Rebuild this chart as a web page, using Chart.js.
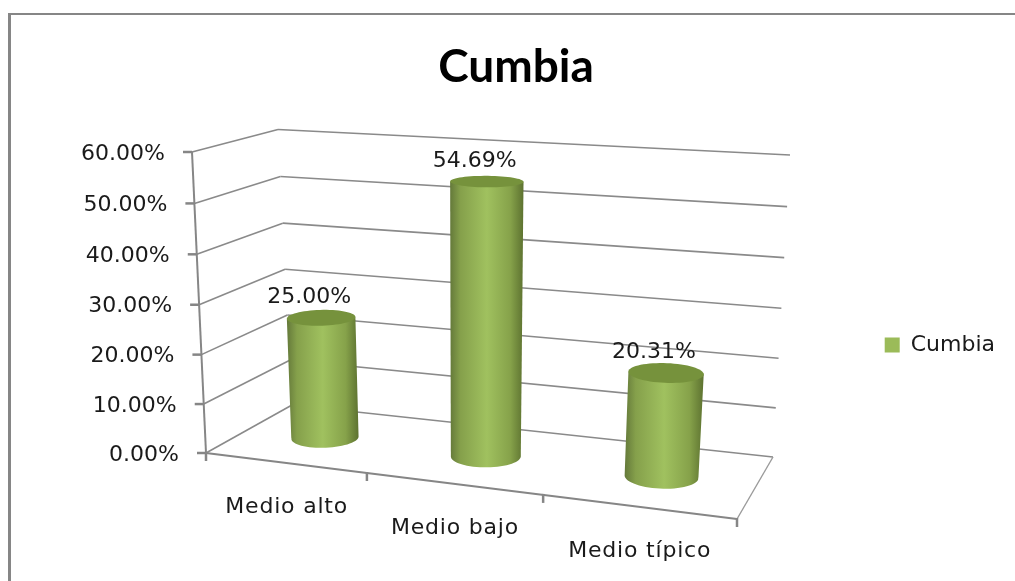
<!DOCTYPE html>
<html>
<head>
<meta charset="utf-8">
<title>Cumbia</title>
<script src="https://cdn.jsdelivr.net/npm/chart.js@4/dist/chart.umd.min.js"></script>
<style>
  html, body { margin: 0; height: 100%; background: #fff; overflow: hidden; }
  /* frame runs past the window on the right and bottom, like the screenshot */
  #frame { position: absolute; left: 8px; top: 13px; width: 1100px; height: 700px; border-left: 3px solid #868686; border-top: 2px solid #868686; }
  #cumbiaChart { position: absolute; left: 0; top: 0; display: block; }
</style>
</head>
<body>
<div id="frame"></div>
<canvas id="cumbiaChart" width="1032" height="595"></canvas>
<script>
const categories = ['Medio alto', 'Medio bajo', 'Medio típico'];
const seriesName = 'Cumbia';
const seriesValues = [0.25, 0.5469, 0.2031];
const yMax = 0.6;
const yStep = 0.1;

const FONT = '"DejaVu Sans"';
const GREEN = '#9bbb59';
const LINE = '#868686';
const TEXT = '#1a1a1a';

// corners of the 3d box on the page: floor and top plane, order front-left, front-right, back-right, back-left
const floorQuad = [[206, 453], [737, 519], [773, 457], [292, 405]];
const topQuad = [[192, 152], [761.5, 184.7], [790, 155], [278, 129.5]];
const heightBias = 1.03;
const radiusU = 0.065;
const radiusV = 0.19;
const depthV = 0.48;

function quadMap(q) {
  const [p0, p1, p2, p3] = q;
  const dx1 = p1[0] - p2[0], dx2 = p3[0] - p2[0], dx3 = p0[0] - p1[0] + p2[0] - p3[0];
  const dy1 = p1[1] - p2[1], dy2 = p3[1] - p2[1], dy3 = p0[1] - p1[1] + p2[1] - p3[1];
  const den = dx1 * dy2 - dx2 * dy1;
  const g = (dx3 * dy2 - dx2 * dy3) / den;
  const h = (dx1 * dy3 - dx3 * dy1) / den;
  const a = p1[0] - p0[0] + g * p1[0], b = p3[0] - p0[0] + h * p3[0];
  const d = p1[1] - p0[1] + g * p1[1], e = p3[1] - p0[1] + h * p3[1];
  return (u, v) => {
    const w = g * u + h * v + 1;
    return [(a * u + b * v + p0[0]) / w, (d * u + e * v + p0[1]) / w];
  };
}

const floorMap = quadMap(floorQuad);
const topMap = quadMap(topQuad);

// u, v on the floor (0..1), t is the height fraction from the value scale
function project(u, v, t) {
  const s = t / (t + (1 - t) * heightBias);
  const a = floorMap(u, v), b = topMap(u, v);
  return [a[0] + (b[0] - a[0]) * s, a[1] + (b[1] - a[1]) * s];
}

function segment(ctx, a, b, color, width) {
  ctx.strokeStyle = color;
  ctx.lineWidth = width;
  ctx.beginPath();
  ctx.moveTo(a[0], a[1]);
  ctx.lineTo(b[0], b[1]);
  ctx.stroke();
}

function heightFrac(chart, value) {
  const y = chart.scales.y;
  return (y.bottom - y.getPixelForValue(value)) / (y.bottom - y.top);
}

function catFrac(chart, index) {
  const x = chart.scales.x;
  return (x.getPixelForValue(index) - x.left) / (x.right - x.left);
}

function circlePoints(u, t) {
  const pts = [];
  for (let i = 0; i < 64; i++) {
    const a = i / 64 * Math.PI * 2;
    pts.push(project(u + Math.cos(a) * radiusU, depthV + Math.sin(a) * radiusV, t));
  }
  return pts;
}

function polyPath(pts) {
  const path = new Path2D();
  pts.forEach((p, i) => (i ? path.lineTo(p[0], p[1]) : path.moveTo(p[0], p[1])));
  path.closePath();
  return path;
}

function drawCylinder(ctx, u, t) {
  const low = circlePoints(u, 0);
  const high = circlePoints(u, t);
  const byX = (pts, pick) => pts.reduce((m, p) => (pick(p[0], m[0]) ? p : m));
  const lowL = byX(low, (a, b) => a < b), lowR = byX(low, (a, b) => a > b);
  const highL = byX(high, (a, b) => a < b), highR = byX(high, (a, b) => a > b);

  const grad = ctx.createLinearGradient(Math.min(lowL[0], highL[0]), 0, Math.max(lowR[0], highR[0]), 0);
  grad.addColorStop(0, '#64793a');
  grad.addColorStop(0.14, '#85a04b');
  grad.addColorStop(0.5, '#a0c15f');
  grad.addColorStop(0.82, '#86a24a');
  grad.addColorStop(1, '#5d7230');

  ctx.fillStyle = grad;
  ctx.beginPath();
  ctx.moveTo(highL[0], highL[1]);
  ctx.lineTo(lowL[0], lowL[1]);
  // front half of the base sits lower on the page
  low.filter(p => p[1] > (lowL[1] + lowR[1]) / 2 - 0.5)
    .sort((a, b) => a[0] - b[0])
    .forEach(p => ctx.lineTo(p[0], p[1]));
  ctx.lineTo(lowR[0], lowR[1]);
  ctx.lineTo(highR[0], highR[1]);
  ctx.closePath();
  ctx.fill();

  ctx.fillStyle = '#76923c';
  ctx.fill(polyPath(high));
}

const box3d = {
  id: 'box3d',
  beforeDatasetsDraw(chart) {
    const ctx = chart.ctx;
    const yScale = chart.scales.y;
    ctx.save();
    ctx.lineCap = 'butt';
    // walls and value ticks
    yScale.ticks.forEach(tick => {
      const t = heightFrac(chart, tick.value);
      const front = project(0, 0, t), back = project(0, 1, t), right = project(1, 1, t);
      segment(ctx, front, back, '#8a8a8a', 1.6);
      segment(ctx, back, right, '#8a8a8a', 1.6);
      segment(ctx, [front[0] - 9, front[1]], front, LINE, 2.5);
      ctx.fillStyle = TEXT;
      ctx.font = '22px ' + FONT;
      ctx.textAlign = 'right';
      ctx.textBaseline = 'middle';
      ctx.fillText(tick.label, front[0] - 27, front[1] + 2);
    });
    // value axis, floor edges
    segment(ctx, project(0, 0, 0), project(0, 0, 1), LINE, 2);
    segment(ctx, project(0, 0, 0), project(1, 0, 0), LINE, 2);
    segment(ctx, project(1, 0, 0), project(1, 1, 0), '#9a9a9a', 1.4);
    // category ticks and labels
    for (let i = 0; i <= categories.length; i++) {
      const p = project(i / categories.length, 0, 0);
      segment(ctx, [p[0], p[1] - 1], [p[0], p[1] + 8], LINE, 2.5);
    }
    categories.forEach((name, i) => {
      const p = project(catFrac(chart, i), 0, 0);
      ctx.fillStyle = TEXT;
      ctx.font = '22px ' + FONT;
      ctx.letterSpacing = '0.8px';
      ctx.textAlign = 'center';
      ctx.textBaseline = 'middle';
      ctx.fillText(chart.scales.x.getLabelForValue(i), p[0] + 2, p[1] + 45);
      ctx.letterSpacing = '0px';
    });
    ctx.restore();
  },
  // the flat bar is replaced by a cylinder
  beforeDatasetDraw(chart, args) {
    const ctx = chart.ctx;
    const values = chart.data.datasets[args.index].data;
    ctx.save();
    values.forEach((value, i) => {
      const u = catFrac(chart, i);
      const t = heightFrac(chart, value);
      drawCylinder(ctx, u, t);
      const c = project(u, depthV, t);
      ctx.fillStyle = TEXT;
      ctx.font = '22px ' + FONT;
      ctx.textAlign = 'center';
      ctx.textBaseline = 'middle';
      ctx.fillText((value * 100).toFixed(2) + '%', c[0] - 12, c[1] - 20);
    });
    ctx.restore();
    return false;
  }
};

new Chart(document.getElementById('cumbiaChart'), {
  type: 'bar',
  data: {
    labels: categories,
    datasets: [{ label: seriesName, data: seriesValues, backgroundColor: GREEN }]
  },
  options: {
    responsive: false,
    animation: false,
    layout: { padding: { left: 27, right: 27 } },
    plugins: {
      title: {
        display: true,
        text: 'Cumbia',
        color: '#000',
        font: { family: 'Lato', size: 46, weight: 'bold' },
        padding: { top: 40, bottom: 8 }
      },
      legend: {
        position: 'right',
        fullSize: false,
        labels: {
          color: TEXT,
          boxWidth: 15,
          boxHeight: 15,
          padding: 8,
          font: { family: 'DejaVu Sans', size: 22 }
        }
      },
      tooltip: { enabled: false }
    },
    scales: {
      x: { offset: true, grid: { display: false }, border: { display: false }, ticks: { display: false } },
      y: {
        min: 0,
        max: yMax,
        grid: { display: false },
        border: { display: false },
        ticks: { display: false, stepSize: yStep, callback: v => (v * 100).toFixed(2) + '%' }
      }
    }
  },
  plugins: [box3d]
});
</script>
</body>
</html>
